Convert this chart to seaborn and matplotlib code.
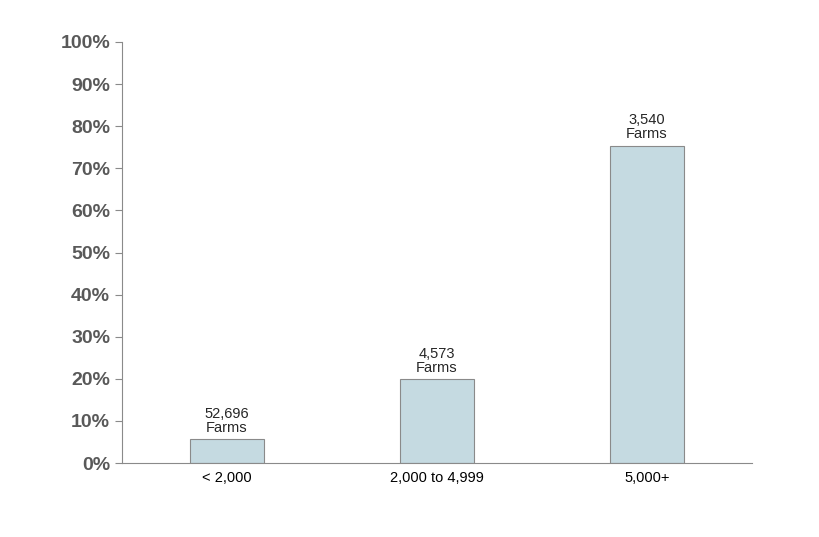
import matplotlib
matplotlib.use("Agg")
import matplotlib.pyplot as plt
import seaborn as sns
import pandas as pd
from matplotlib.ticker import FixedLocator

categories = ["< 2,000", "2,000 to 4,999", "5,000+"]
shares = [5.7, 19.9, 75.4]
farm_labels = ["52,696\nFarms", "4,573\nFarms", "3,540\nFarms"]
yticks = list(range(0, 101, 10))

sns.set_style("white")
plt.rcParams['font.family'] = ['Liberation Sans', 'DejaVu Sans']

df = pd.DataFrame({"cat": categories, "share": shares})
fig = plt.figure(figsize=(8.2, 5.37), dpi=100)
ax = fig.add_axes([122/820, 1-463/537, 630/820, 421/537])
sns.barplot(data=df, x="cat", y="share", color="#c5dae1", edgecolor="#8a8a8a",
            linewidth=0.8, width=0.35, saturation=1, ax=ax)
ax.set_xlim(-0.5, 2.5)
ax.set_ylim(0, 100)
ax.set_yticks(yticks)
ax.set_yticklabels([f"{v}%" for v in yticks], fontsize=14, fontweight="bold", color="#595959")
ax.set_xticks(range(3))
ax.set_xticklabels(categories, fontsize=10.5, color="black")
ax.xaxis.set_minor_locator(FixedLocator([0.5, 1.5, 2.5]))
ax.tick_params(axis="x", which="major", length=0, pad=6)
ax.tick_params(axis="x", which="minor", length=5, color="#8a8a8a", direction="out")
ax.tick_params(axis="y", length=5, color="#8a8a8a", direction="out", left=True)
ax.set_xlabel("")
ax.set_ylabel("")
for s in ["top", "right"]:
    ax.spines[s].set_visible(False)
for s in ["left", "bottom"]:
    ax.spines[s].set_color("#8a8a8a")
    ax.spines[s].set_linewidth(0.8)
for i, (v, t) in enumerate(zip(shares, farm_labels)):
    ax.text(i, v + 1, t, ha="center", va="bottom", fontsize=10.5, linespacing=1.0)
fig.savefig("out.png", dpi=100)
